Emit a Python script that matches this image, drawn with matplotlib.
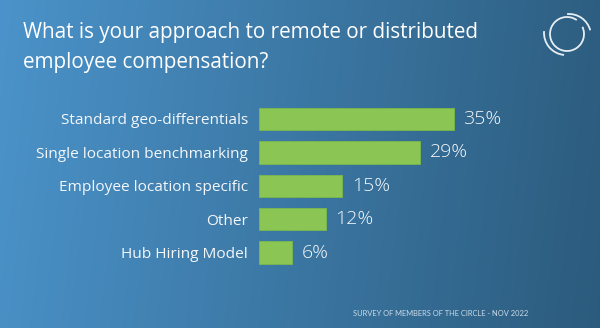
import numpy as np
import matplotlib
matplotlib.use("Agg")
import matplotlib.pyplot as plt
from matplotlib.patches import Arc
from matplotlib.colors import to_rgb

categories = ["Standard geo-differentials", "Single location benchmarking",
              "Employee location specific", "Other", "Hub Hiring Model"]
values = [35, 29, 15, 12, 6]
title_lines = ["What is your approach to remote or distributed",
               "employee compensation?"]
footer = "SURVEY OF MEMBERS OF THE CIRCLE - NOV 2022"

W, H = 600, 328
FONT = "Open Sans"
BAR = "#8bc654"
TXT = "#f4f7fa"

fig = plt.figure(figsize=(W / 100, H / 100), dpi=100)

# background gradient + logo, in pixel coords
bg = fig.add_axes((0, 0, 1, 1))
left, right = np.array(to_rgb("#4b93ca")), np.array(to_rgb("#2b5a7b"))
t = np.linspace(0, 1, 300)[None, :, None]
ty = np.linspace(0, 1, 50)[:, None, None]
tt = np.clip(t * 0.92 + ty * 0.06, 0, 1)
img = left * (1 - tt) + right * tt
bg.imshow(img, extent=(0, W, H, 0), aspect="auto", interpolation="bilinear")
bg.set_xlim(0, W); bg.set_ylim(H, 0); bg.axis("off")
cx, cy = 567, 34
bg.add_patch(Arc((cx, cy), 34, 34, theta1=-25, theta2=305, color="#e6eef4", lw=1.3))
bg.add_patch(Arc((cx - 1, cy - 1), 44, 44, theta1=95, theta2=185, color="#e6eef4", lw=1.3))
bg.add_patch(Arc((cx + 2, cy + 2), 44, 44, theta1=265, theta2=345, color="#e6eef4", lw=1.3))

for i, line in enumerate(title_lines):
    fig.text(23 / W, 1 - (38 + 30 * i) / H, line, fontsize=14.9, color="white",
             family=FONT, va="baseline", ha="left")
fig.text(353 / W, 1 - 314 / H, footer, fontsize=5.4, color="#c9dbe9",
         family="Lato", va="center", ha="left")

# bars
pxper = 5.56
ax = fig.add_axes((259 / W, 1 - 269.2 / H, 60 * pxper / W, 166.9 / H))
ax.patch.set_alpha(0)
y = np.arange(len(values))
ax.barh(y, values, height=0.67, color=BAR, edgecolor="#7ab84a", lw=0.6)
ax.set_xlim(0, 60); ax.set_ylim(len(values) - 0.5, -0.5)
ax.set_yticks(y, categories)
ax.tick_params(axis="y", length=0, pad=8, labelsize=11.1, labelcolor=TXT)
for lab in ax.get_yticklabels():
    lab.set_family(FONT)
ax.set_xticks([])
for s in ax.spines.values():
    s.set_visible(False)
for yi, v in zip(y, values):
    ax.annotate(f"{v}%", (v, yi), xytext=(7, 0), textcoords="offset points",
                va="center", ha="left", fontsize=14, color=TXT, family=FONT,
                weight="light")

fig.savefig("out.png", dpi=100)
